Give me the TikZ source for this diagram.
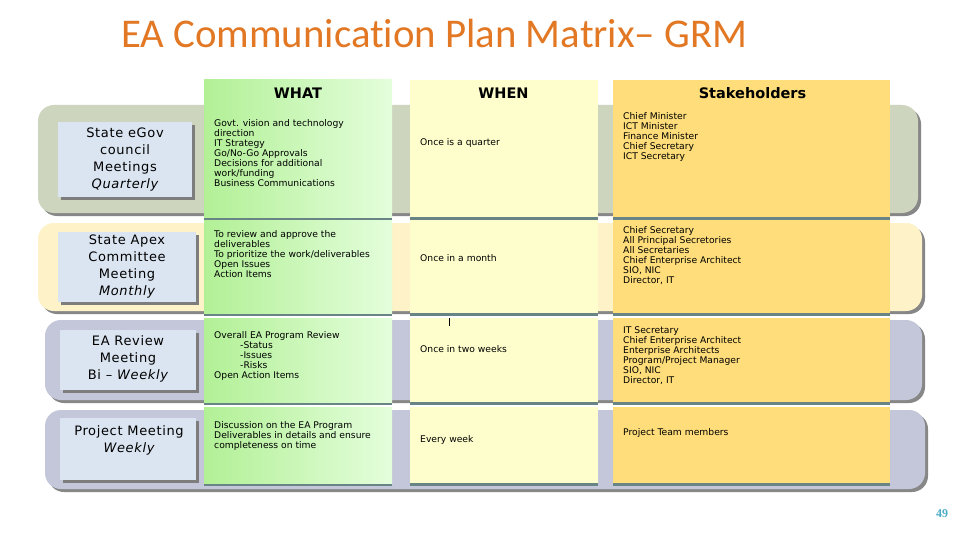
\documentclass[tikz,border=0pt]{standalone}
\usepackage{fontspec}
\setmainfont{DejaVu Sans}
\newfontfamily\titlefont[Ligatures=NoCommon]{Carlito}
\newfontfamily\boxfont[LetterSpace=5]{DejaVu Sans}
\newfontfamily\headfont{DejaVu Sans}
\newfontfamily\numfont{Liberation Serif}
\usetikzlibrary{shadows}
\definecolor{bandA}{RGB}{206,213,190}
\definecolor{bandB}{RGB}{253,242,200}
\definecolor{bandC}{RGB}{196,199,218}
\definecolor{bandshadow}{RGB}{135,135,135}
\definecolor{labelfill}{RGB}{219,229,241}
\definecolor{labelshadow}{RGB}{125,125,125}
\definecolor{whatA}{RGB}{178,240,150}
\definecolor{whatB}{RGB}{228,254,220}
\definecolor{whenfill}{RGB}{254,254,204}
\definecolor{stkfill}{RGB}{254,221,122}
\definecolor{cellshadow}{RGB}{105,132,132}
\definecolor{titlecol}{RGB}{226,120,36}
\definecolor{numcol}{RGB}{75,172,198}
\begin{document}
\begin{tikzpicture}[x=1pt,y=-1pt,
  band/.style={rounded corners=16pt, inner sep=0pt, drop shadow={shadow xshift=3pt,shadow yshift=-3pt,fill=bandshadow,opacity=1}},
  labelbox/.style={fill=labelfill, inner sep=0pt, drop shadow={shadow xshift=3pt,shadow yshift=-3pt,fill=labelshadow,opacity=1}},
  cell/.style={inner sep=0pt, drop shadow={shadow xshift=0pt,shadow yshift=-3pt,fill=cellshadow,opacity=1}},
  whatcell/.style={cell, left color=whatA, right color=whatB, minimum width=188pt},
  whencell/.style={cell, fill=whenfill, minimum width=188pt},
  stkcell/.style={cell, fill=stkfill, minimum width=277pt},
  labeltext/.style={font=\boxfont\fontsize{13}{17}\selectfont, align=center, inner sep=0pt},
  header/.style={font=\headfont\bfseries\fontsize{14.5}{16}\selectfont, inner sep=0pt},
  celltext/.style={font=\fontsize{9.2}{10}\selectfont, align=left, inner sep=0pt, anchor=north west},
  onetext/.style={font=\fontsize{9.2}{10}\selectfont, inner sep=0pt, anchor=west}
]
\useasboundingbox (0,0) rectangle (960,540);
\fill[white] (0,0) rectangle (960,540);

% title
\node[font=\titlefont\fontsize{40.8}{44}\selectfont, text=titlecol, anchor=base west, inner sep=0pt] (title) at (121,48) {EA Communication Plan Matrix– GRM};

% bands
\node[band, fill=bandA, minimum width=880pt, minimum height=108pt] (band1) at (478,159) {};
\node[band, fill=bandB, minimum width=884pt, minimum height=88pt] (band2) at (480,267) {};
\node[band, fill=bandC, minimum width=877pt, minimum height=80pt] (band3) at (483.5,360) {};
\node[band, fill=bandC, minimum width=880pt, minimum height=79pt] (band4) at (485,449.5) {};

% label boxes
\node[labelbox, minimum width=134pt, minimum height=75pt] (lab1) at (125,159.5) {};
\node[labelbox, minimum width=138pt, minimum height=70pt] (lab2) at (127,267) {};
\node[labelbox, minimum width=136pt, minimum height=60pt] (lab3) at (128,360) {};
\node[labelbox, minimum width=136pt, minimum height=62pt] (lab4) at (128,449) {};

\node[labeltext] (lab1t) at (lab1.center) {State eGov\\council\\Meetings\\\itshape Quarterly};
\node[labeltext] (lab2t) at (lab2.center) {State Apex\\Committee\\Meeting\\\itshape Monthly};
\node[labeltext] (lab3t) at ([yshift=1.5pt]lab3.center) {EA Review\\Meeting\\Bi – \itshape Weekly};
\node[labeltext] (lab4t) at (129,440) {Project Meeting\\\itshape Weekly};

% columns: WHAT
\node[whatcell, minimum height=137pt] (what1) at (298,148.5) {};
\node[whatcell, minimum height=93pt] (what2) at (298,266.5) {};
\node[whatcell, minimum height=84pt] (what3) at (298,360) {};
\node[whatcell, minimum height=76pt] (what4) at (298,445) {};
% WHEN
\node[whencell, minimum height=137pt] (when1) at (504,148.5) {};
\node[whencell, minimum height=93pt] (when2) at (504,266.5) {};
\node[whencell, minimum height=84pt] (when3) at (504,360) {};
\node[whencell, minimum height=76pt] (when4) at (504,445) {};
% STAKEHOLDERS
\node[stkcell, minimum height=137pt] (stk1) at (751.5,148.5) {};
\node[stkcell, minimum height=93pt] (stk2) at (751.5,266.5) {};
\node[stkcell, minimum height=84pt] (stk3) at (751.5,360) {};
\node[stkcell, minimum height=76pt] (stk4) at (751.5,445) {};

% headers
\node[header] (hwhat) at (298,93) {WHAT};
\node[header] (hwhen) at (503.5,93) {WHEN};
\node[header] (hstk) at (752.5,93) {Stakeholders};

% row 1 texts
\node[celltext] (what1t) at (214,119.5) {Govt. vision and technology\\direction\\IT Strategy\\Go/No-Go Approvals\\Decisions for additional\\work/funding\\Business Communications};
\node[onetext] (when1t) at (420,143) {Once is a quarter};
\node[celltext] (stk1t) at (623,112.5) {Chief Minister\\ICT Minister\\Finance Minister\\Chief Secretary\\ICT Secretary};

% row 2 texts
\node[celltext] (what2t) at (214,230.5) {To review and approve the\\deliverables\\To prioritize the work/deliverables\\Open Issues\\Action Items};
\node[onetext] (when2t) at (420,258) {Once in a month};
\node[celltext] (stk2t) at (623,226.5) {Chief Secretary\\All Principal Secretories\\All Secretaries\\Chief Enterprise Architect\\SIO, NIC\\Director, IT};

% row 3 texts
\node[celltext] (what3t) at (214,331.5) {Overall EA Program Review\\\hspace*{26pt}-Status\\\hspace*{26pt}-Issues\\\hspace*{26pt}-Risks\\Open Action Items};
\node[onetext] (when3t) at (420,349) {Once in two weeks};
\node[celltext] (stk3t) at (623,326.5) {IT Secretary\\Chief Enterprise Architect\\Enterprise Architects\\Program/Project Manager\\SIO, NIC\\Director, IT};
\coordinate (curA) at (449,318);
\coordinate (curB) at (449,326);
\draw[black, line width=0.8pt] (curA) -- (curB);

% row 4 texts
\node[celltext] (what4t) at (214,421.5) {Discussion on the EA Program\\Deliverables in details and ensure\\completeness on time};
\node[onetext] (when4t) at (420,440) {Every week};
\node[onetext] (stk4t) at (623,433) {Project Team members};

% page number
\node[font=\numfont\bfseries\fontsize{12}{13}\selectfont, text=numcol, inner sep=0pt] (pnum) at (942,514) {49};
\end{tikzpicture}
\end{document}
